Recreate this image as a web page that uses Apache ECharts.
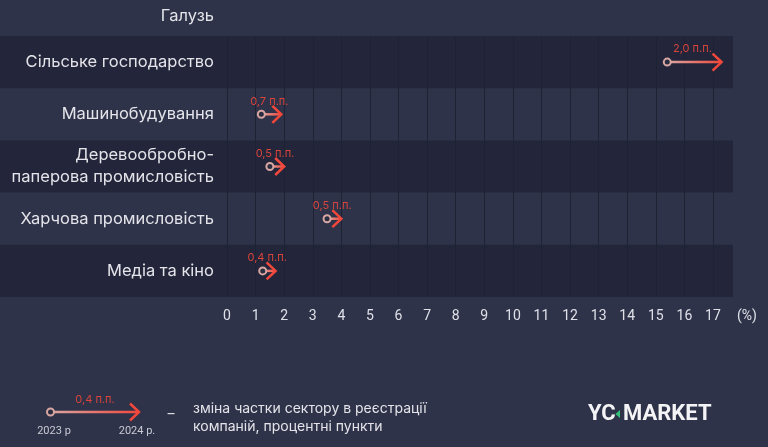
<!DOCTYPE html>
<html>
<head>
<meta charset="utf-8">
<script src="https://cdn.jsdelivr.net/npm/echarts@6/dist/echarts.min.js"></script>
<style>
  html, body { margin: 0; padding: 0; background: #2f3349; }
  #main { width: 768px; height: 447px; }
</style>
</head>
<body>
<div id="main"></div>
<script>
// Галузі та зміна частки (2023 -> 2024)
var categories = ['Сільське господарство', 'Машинобудування', 'Деревообробно-\nпаперова промисловість', 'Харчова промисловість', 'Медіа та кіно'];
var share2023 = [15.4, 1.2, 1.5, 3.5, 1.25];
var share2024 = [17.3, 1.9, 2.0, 4.0, 1.7];
var changeLabels = ['2,0 п.п.', '0,7 п.п.', '0,5 п.п.', '0,5 п.п.', '0,4 п.п.'];
var xMin = 0, xMax = 17.7, xStep = 1;

var lightRed = '#d9a7a3';
var red = '#f2473b';

var arrowData = categories.map(function (c, i) {
    return [i, share2023[i], share2024[i]];
});

function renderArrow(params, api) {
    var idx = api.value(0);
    var a = api.coord([api.value(1), idx]);
    var b = api.coord([api.value(2), idx]);
    var grad = new echarts.graphic.LinearGradient(a[0], 0, b[0], 0, [
        { offset: 0, color: lightRed },
        { offset: 1, color: red }
    ], true);
    return {
        type: 'group',
        children: [
            { type: 'line', shape: { x1: a[0], y1: a[1], x2: b[0] - 1, y2: b[1] },
              style: { stroke: grad, lineWidth: 2.5 } },
            { type: 'polyline', shape: { points: [[b[0] - 9, b[1] - 8.5], [b[0], b[1]], [b[0] - 9, b[1] + 8.5]] },
              style: { stroke: red, fill: null, lineWidth: 2.5 } },
            { type: 'circle', shape: { cx: a[0], cy: a[1], r: 3.5 },
              style: { fill: '#2a2d40', stroke: lightRed, lineWidth: 2 } },
            { type: 'text', x: (a[0] + b[0]) / 2 - 2, y: a[1] - 13,
              style: { text: changeLabels[params.dataIndex], fill: '#d9443b', font: '11px Inter', align: 'center', verticalAlign: 'middle' } }
        ]
    };
}

var myChart = echarts.init(document.getElementById('main'));
var option = {
    backgroundColor: '#2f3349',
    textStyle: { fontFamily: 'Inter' },
    grid: [
        { left: 0, width: 227, top: 36, bottom: 150 },
        { left: 227, right: 35, top: 36, bottom: 150 }
    ],
    xAxis: [
        { gridIndex: 0, type: 'value', show: false },
        {
            gridIndex: 1,
            type: 'value',
            min: xMin,
            max: xMax,
            interval: xStep,
            name: '(%)',
            nameLocation: 'end',
            nameGap: 4,
            nameTextStyle: { color: '#dfe0e8', fontSize: 14, fontFamily: 'Roboto', verticalAlign: 'top', padding: [12, 0, 0, 0] },
            axisLine: { show: false },
            axisTick: { show: false },
            axisLabel: {
                color: '#dfe0e8',
                fontSize: 14,
                fontFamily: 'Roboto',
                margin: 12,
                showMaxLabel: false,
                formatter: function (v) { return Number.isInteger(v) ? v : ''; }
            },
            splitLine: { show: true, showMaxLine: false, lineStyle: { color: '#1f2233', width: 1 } }
        }
    ],
    yAxis: [
        {
            gridIndex: 0,
            type: 'category',
            inverse: true,
            data: categories,
            axisLine: { show: false },
            axisTick: { show: false },
            axisLabel: { show: false },
            splitArea: { show: true, areaStyle: { color: ['#23263a', 'rgba(0,0,0,0)'] } }
        },
        {
            gridIndex: 1,
            type: 'category',
            inverse: true,
            data: categories,
            name: 'Галузь',
            nameLocation: 'start',
            nameGap: 20,
            nameTextStyle: { color: '#e4e4ea', fontSize: 16.5, align: 'right', verticalAlign: 'middle', padding: [0, 13, 0, 0] },
            axisLine: { show: false },
            axisTick: { show: false },
            axisLabel: { color: '#e4e4ea', fontSize: 16.5, margin: 13, lineHeight: 22, align: 'right' },
            splitArea: { show: true, areaStyle: { color: ['#23263a', 'rgba(0,0,0,0)'] } }
        }
    ],
    series: [
        {
            type: 'custom',
            xAxisIndex: 1,
            yAxisIndex: 1,
            renderItem: renderArrow,
            encode: { x: [1, 2], y: 0 },
            data: arrowData,
            silent: true
        }
    ],
    graphic: [
        { type: 'line', shape: { x1: 50, y1: 412, x2: 138, y2: 412 },
          style: { stroke: new echarts.graphic.LinearGradient(50, 0, 139, 0, [{ offset: 0, color: lightRed }, { offset: 1, color: red }], true), lineWidth: 2.5 } },
        { type: 'polyline', shape: { points: [[130, 403.5], [139, 412], [130, 420.5]] },
          style: { stroke: red, fill: null, lineWidth: 2.5 } },
        { type: 'circle', shape: { cx: 50.5, cy: 412, r: 3.5 },
          style: { fill: '#2a2d40', stroke: lightRed, lineWidth: 2 } },
        { type: 'text', x: 95, y: 400, style: { text: '0,4 п.п.', fill: '#d9443b', font: '11px Inter', align: 'center', verticalAlign: 'middle' } },
        { type: 'text', x: 54, y: 431, style: { text: '2023 р', fill: '#c9cad3', font: '11px Roboto', align: 'center', verticalAlign: 'middle' } },
        { type: 'text', x: 137, y: 431, style: { text: '2024 р.', fill: '#c9cad3', font: '11px Roboto', align: 'center', verticalAlign: 'middle' } },
        { type: 'text', x: 171, y: 415, style: { text: '–', fill: '#e4e4ea', font: '14px Roboto', align: 'center', verticalAlign: 'middle' } },
        { type: 'text', x: 193, y: 418, style: { text: 'зміна частки сектору в реєстрації\nкомпаній, процентні пункти', fill: '#e4e4ea', font: '14px Inter', lineHeight: 18, align: 'left', verticalAlign: 'middle' } },
        { type: 'text', x: 588, y: 414, style: { text: 'YC', fill: '#f4f4f6', font: 'bold 22px Roboto', align: 'left', verticalAlign: 'middle' } },
        { type: 'polygon', shape: { points: [[620, 410], [615.5, 414], [620, 418]] }, style: { fill: '#33c47a' } },
        { type: 'text', x: 623, y: 414, style: { text: 'MARKET', fill: '#f4f4f6', font: 'bold 22px Roboto', align: 'left', verticalAlign: 'middle' } }
    ]
};
myChart.setOption(option);
</script>
</body>
</html>
